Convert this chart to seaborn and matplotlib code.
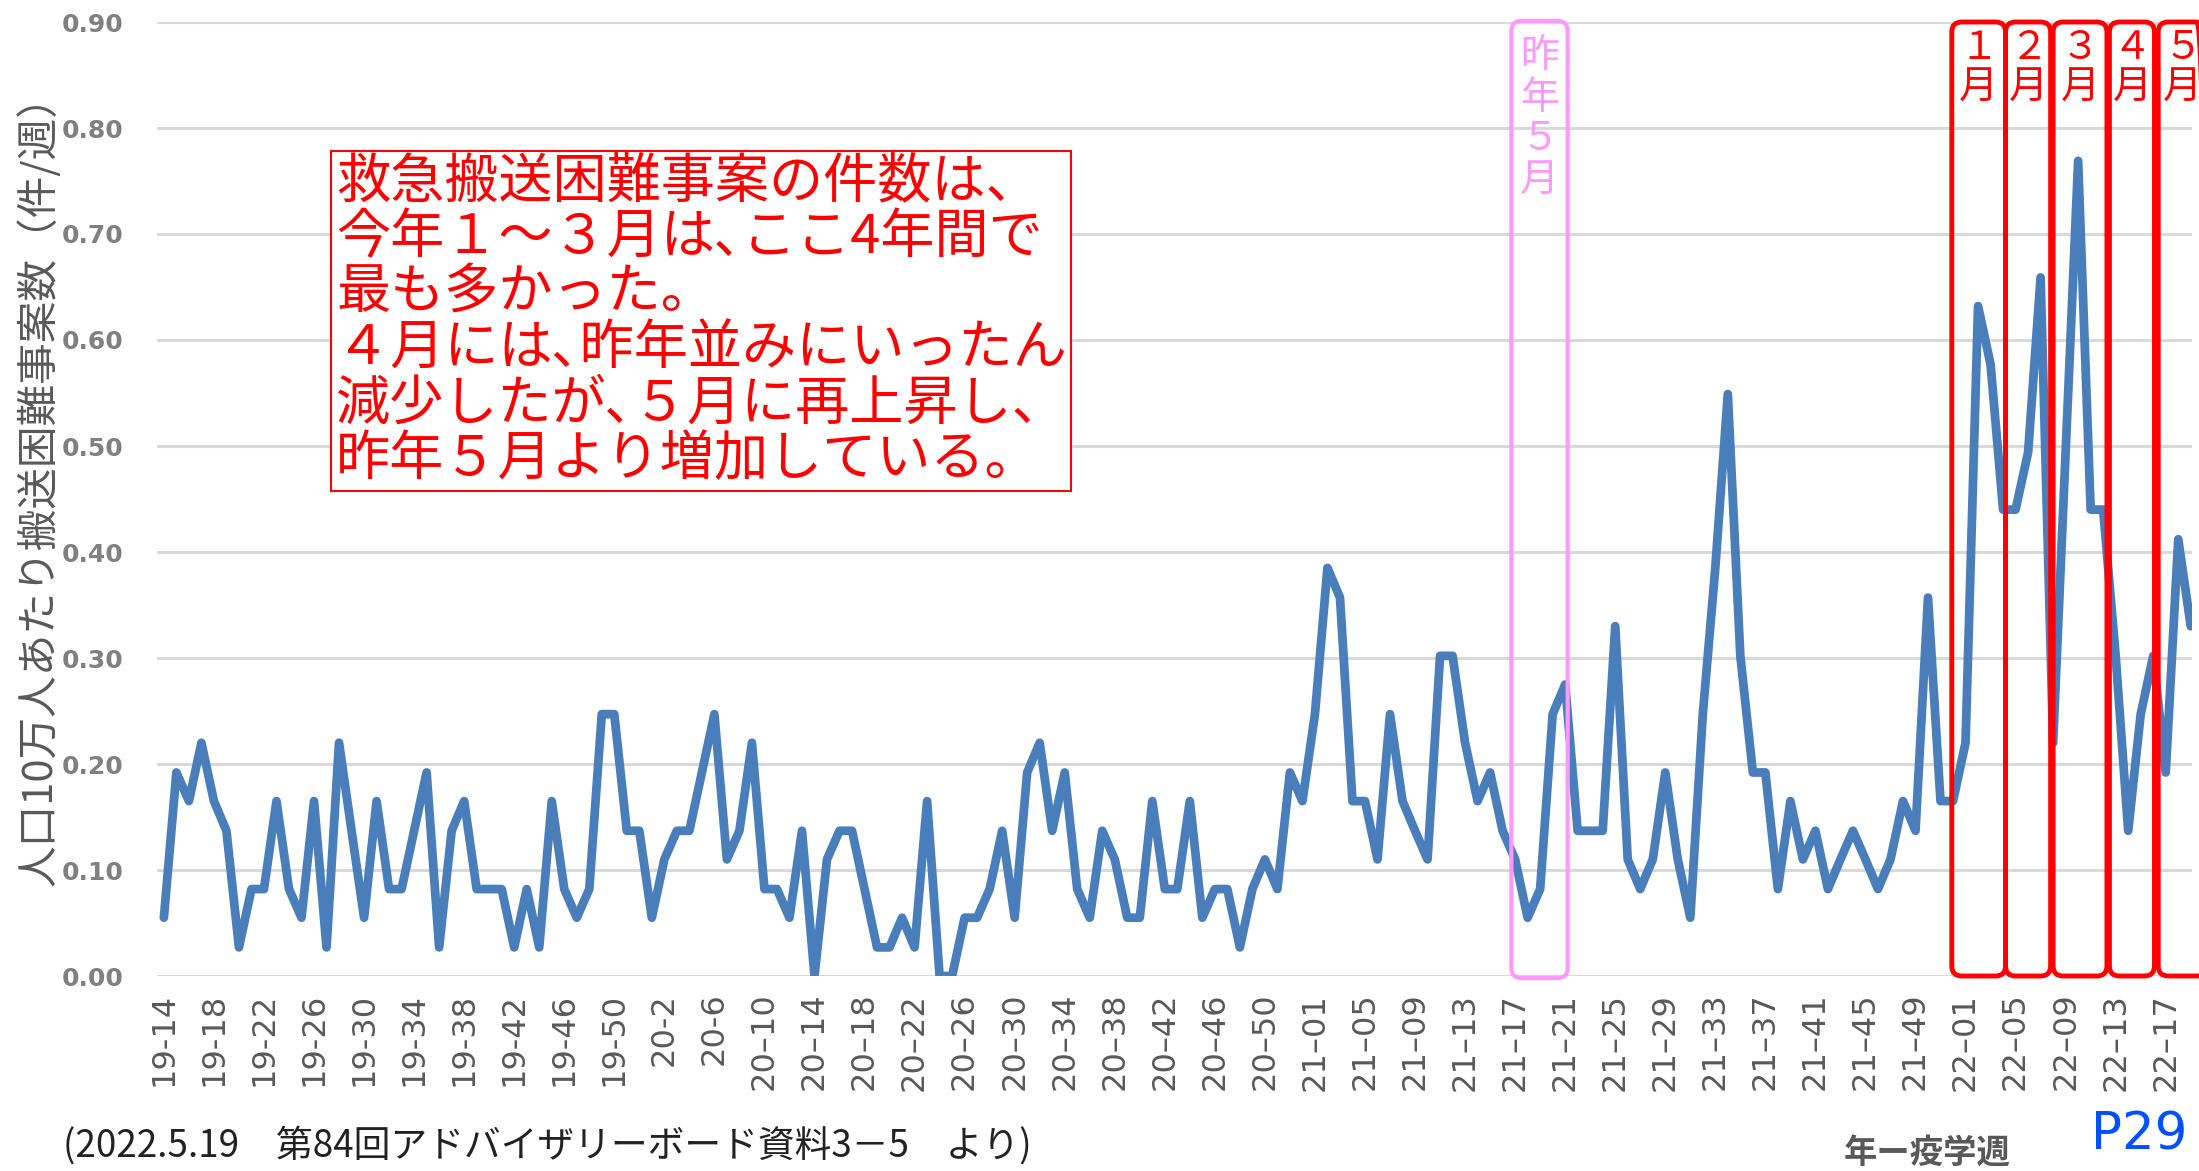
import numpy as np
import pandas as pd
import seaborn as sns
import matplotlib.pyplot as plt
from matplotlib.patches import FancyBboxPatch, Rectangle

# Weekly rate (per 100k people), 2019 week 14 to 2022 week 19
rate_2019 = [0.055, 0.192, 0.165, 0.220, 0.165, 0.137, 0.027, 0.082, 0.082, 0.165,
             0.082, 0.055, 0.165, 0.027, 0.220, 0.137, 0.055, 0.165, 0.082, 0.082,
             0.137, 0.192, 0.027, 0.137, 0.165, 0.082, 0.082, 0.082, 0.027, 0.082,
             0.027, 0.165, 0.082, 0.055, 0.082, 0.247, 0.247, 0.137, 0.137]
rate_2020 = [0.055, 0.110, 0.137, 0.137, 0.192, 0.247, 0.110, 0.137, 0.220, 0.082,
             0.082, 0.055, 0.137, 0.000, 0.110, 0.137, 0.137, 0.082, 0.027, 0.027,
             0.055, 0.027, 0.165, 0.000, 0.000, 0.055, 0.055, 0.082, 0.137, 0.055,
             0.192, 0.220, 0.137, 0.192, 0.082, 0.055, 0.137, 0.110, 0.055, 0.055,
             0.165, 0.082, 0.082, 0.165, 0.055, 0.082, 0.082, 0.027, 0.082, 0.110,
             0.082, 0.192, 0.165]
rate_2021 = [0.247, 0.385, 0.357, 0.165, 0.165, 0.110, 0.247, 0.165, 0.137, 0.110,
             0.302, 0.302, 0.220, 0.165, 0.192, 0.137, 0.110, 0.055, 0.082, 0.247,
             0.275, 0.137, 0.137, 0.137, 0.330, 0.110, 0.082, 0.110, 0.192, 0.110,
             0.055, 0.247, 0.385, 0.549, 0.302, 0.192, 0.192, 0.082, 0.165, 0.110,
             0.137, 0.082, 0.110, 0.137, 0.110, 0.082, 0.110, 0.165, 0.137, 0.357,
             0.165, 0.165]
rate_2022 = [0.220, 0.632, 0.577, 0.440, 0.440, 0.494, 0.659, 0.220, 0.494, 0.769,
             0.440, 0.440, 0.302, 0.137, 0.247, 0.302, 0.192, 0.412, 0.330]

tick_labels = ["19-14", "19-18", "19-22", "19-26", "19-30", "19-34", "19-38", "19-42",
               "19-46", "19-50",
               "20-2", "20-6", "20–10", "20–14", "20–18", "20–22", "20–26", "20–30",
               "20–34", "20–38", "20–42", "20–46", "20–50",
               "21–01", "21–05", "21–09", "21–13", "21–17", "21–21", "21–25", "21–29",
               "21–33", "21–37", "21–41", "21–45", "21–49",
               "22–01", "22–05", "22–09", "22–13", "22–17"]

# month highlight boxes (week position range)
months = ["１\n月", "２\n月", "３\n月", "４\n月", "５\n月"]
month_start = [142.9, 147.2, 151.0, 155.5, 159.4]
month_end = [147.2, 150.8, 155.3, 159.1, 163.3]

note = ("救急搬送困難事案の件数は、\n今年１～３月は､ここ4年間で\n最も多かった。\n"
        "４月には､昨年並みにいったん\n減少したが､５月に再上昇し、\n昨年５月より増加している。")

rates = rate_2019 + rate_2020 + rate_2021 + rate_2022
df = pd.DataFrame({"pos": np.arange(len(rates)), "rate": rates})

sns.set_theme(style="white")
plt.rcParams['font.family'] = ['Noto Sans CJK JP', 'DejaVu Sans']

fig = plt.figure(figsize=(21.99, 11.71), dpi=100)
ax = fig.add_axes([157 / 2199, 1 - 976 / 1171, (2192 - 157) / 2199, 954 / 1171])

sns.lineplot(data=df, x="pos", y="rate", ax=ax, color="#4a7ebb", linewidth=6.3,
             solid_joinstyle="round", solid_capstyle="round", zorder=3)

ax.set_xlim(-0.55, 162.1)
ax.set_ylim(0, 0.9)
ax.set_yticks(np.arange(0, 0.91, 0.1))
ax.set_yticklabels([f"{v:.2f}" for v in np.arange(0, 0.91, 0.1)],
                   fontfamily="DejaVu Sans", fontweight="bold", fontsize=18, color="#808080")
ax.set_xticks(np.arange(0, 161, 4))
ax.set_xticklabels(tick_labels, rotation=90, fontfamily="DejaVu Sans",
                   fontsize=23, color="#595959")
ax.tick_params(axis="y", length=0, pad=24)
ax.tick_params(axis="x", length=0, pad=12)
ax.yaxis.grid(True, color="#d9d9d9", linewidth=2.2)
ax.xaxis.grid(False)
for s in ax.spines.values():
    s.set_visible(False)
ax.set_xlabel("")
ax.set_ylabel("")
fig.text(39 / 2199, 1 - 480 / 1171, "人口10万人あたり搬送困難事案数（件/週）", rotation=90,
         ha="center", va="center", fontsize=30, color="#595959")

# last year's May box (pink)
pink = FancyBboxPatch((107.7, -0.002), 4.5, 0.903,
                      boxstyle="round,pad=0,rounding_size=0.8", mutation_aspect=0.0118,
                      fill=False, edgecolor="#ff99ff", linewidth=3, clip_on=False, zorder=4)
ax.add_patch(pink)
ax.text(109.95, 0.809, "昨\n年\n５\n月", ha="center", va="center", fontsize=28,
        color="#ff99ff", linespacing=1.06, zorder=5)

# this year's month boxes (red)
for lab, x0, x1 in zip(months, month_start, month_end):
    box = FancyBboxPatch((x0, 0.0), x1 - x0, 0.9,
                         boxstyle="round,pad=0,rounding_size=0.8", mutation_aspect=0.0118,
                         fill=False, edgecolor="#ff0000", linewidth=3.5, clip_on=False, zorder=4)
    ax.add_patch(box)
    ax.text((x0 + x1) / 2, 0.857, lab, ha="center", va="center", fontsize=28,
            color="#ff0000", linespacing=0.99, zorder=5, clip_on=False)

# comment box
fig.patches.append(Rectangle((331 / 2199, 1 - 491 / 1171), 740 / 2199, 340 / 1171,
                             transform=fig.transFigure, facecolor="white",
                             edgecolor="#ff0000", linewidth=1.5, zorder=5))
fig.text(336 / 2199, 1 - 155 / 1171, note, ha="left", va="top", fontsize=39,
         color="#ff0000", linespacing=1.01, zorder=6)

fig.text(1927 / 2199, 1 - 1153 / 1171, "年ー疫学週", ha="center", va="center",
         fontsize=24, color="#595959", fontweight="bold")
fig.text(63 / 2199, 1 - 1146 / 1171, "(2022.5.19　第84回アドバイザリーボード資料3－5　より)",
         ha="left", va="center", fontsize=26.5, color="#222222")
fig.text(2139 / 2199, 1 - 1136 / 1171, "P29", ha="center", va="center",
         fontsize=37, color="#0050ff", fontfamily="DejaVu Sans")

fig.savefig("out.png", dpi=100)
